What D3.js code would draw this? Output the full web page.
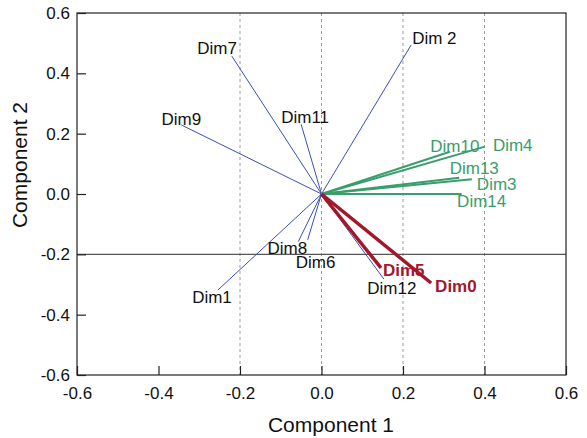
<!DOCTYPE html>
<html>
<head>
<meta charset="utf-8">
<script src="https://cdn.jsdelivr.net/npm/d3@7"></script>
<style>
  html, body { margin: 0; padding: 0; background: #fff; }
  svg { display: block; font-family: "Liberation Sans", Arial, Helvetica, sans-serif; }
</style>
</head>
<body>
<svg id="chart" width="587" height="438"></svg>
<script>
// Loading vectors: dimension names with their component 1 / component 2 coordinates
const dims  = ["Dim7", "Dim9", "Dim11", "Dim 2", "Dim1", "Dim8", "Dim6", "Dim12",
               "Dim10", "Dim4", "Dim13", "Dim3", "Dim14", "Dim5", "Dim0"];
const comp1 = [-0.220, -0.344, -0.050, 0.220, -0.254, -0.057, -0.034, 0.153,
               0.315, 0.401, 0.338, 0.369, 0.344, 0.146, 0.269];
const comp2 = [0.457, 0.229, 0.231, 0.494, -0.318, -0.158, -0.152, -0.282,
               0.140, 0.157, 0.054, 0.049, 0.000, -0.245, -0.295];
// Group of each vector: 0 = other, 1 = secondary cluster, 2 = highlighted
const group = [0, 0, 0, 0, 0, 0, 0, 0, 1, 1, 1, 1, 1, 2, 2];

const xTicks = [-0.6, -0.4, -0.2, 0.0, 0.2, 0.4, 0.6];
const yTicks = [-0.6, -0.4, -0.2, 0.0, 0.2, 0.4, 0.6];
const gridX  = [-0.2, 0.0, 0.2, 0.4];
const refY   = -0.2;

// Styling per group
const lineColor  = ["#3b4fb3", "#3a9d6c", "#a3172b"];
const lineWidth  = [1, 2, 3.5];
const labelColor = ["#111", "#3a9d6c", "#a3172b"];
const labelWeight = ["normal", "normal", "bold"];

// Label placement relative to each vector tip (pixels)
const labelLayout = {
  "Dim7":  {dx: 5,   dy: -2, anchor: "end"},
  "Dim9":  {dx: 0,   dy: 0,  anchor: "middle"},
  "Dim11": {dx: 4,   dy: -1, anchor: "middle"},
  "Dim 2": {dx: 1,   dy: -1, anchor: "start"},
  "Dim1":  {dx: -6,  dy: 13, anchor: "middle"},
  "Dim8":  {dx: -11, dy: 12, anchor: "middle"},
  "Dim6":  {dx: 8,   dy: 28, anchor: "middle"},
  "Dim12": {dx: 8,   dy: 15, anchor: "middle"},
  "Dim10": {dx: 5,   dy: 0,  anchor: "middle"},
  "Dim4":  {dx: 8,   dy: 4,  anchor: "start"},
  "Dim13": {dx: 15,  dy: -4, anchor: "middle"},
  "Dim3":  {dx: 5,   dy: 11, anchor: "start"},
  "Dim14": {dx: 20,  dy: 13, anchor: "middle"},
  "Dim5":  {dx: 2,   dy: 8,  anchor: "start"},
  "Dim0":  {dx: 4,   dy: 9,  anchor: "start"}
};

const svg = d3.select("#chart");
const plotLeft = 77, plotRight = 566, plotTop = 13, plotBottom = 375;

const x = d3.scaleLinear().domain([-0.6, 0.6]).range([plotLeft, plotRight]);
const y = d3.scaleLinear().domain([-0.6, 0.6]).range([plotBottom, plotTop]);

// Dashed vertical guides
svg.append("g").selectAll("line").data(gridX).join("line")
  .attr("x1", d => x(d)).attr("x2", d => x(d))
  .attr("y1", plotTop).attr("y2", plotBottom)
  .attr("stroke", "#9a9a9a").attr("stroke-width", 1)
  .attr("stroke-dasharray", "3,3");

// Solid horizontal reference line
svg.append("line")
  .attr("x1", plotLeft).attr("x2", plotRight)
  .attr("y1", y(refY)).attr("y2", y(refY))
  .attr("stroke", "#555").attr("stroke-width", 1.2);

// Axes with inward ticks
const fmt = d => d3.format(".1f")(d).replace("\u2212", "-");
const xAxis = d3.axisBottom(x).tickValues(xTicks).tickSize(-9).tickPadding(12).tickFormat(fmt);
const yAxis = d3.axisLeft(y).tickValues(yTicks).tickSize(-9).tickPadding(7).tickFormat(fmt);

const gx = svg.append("g").attr("transform", `translate(0,${plotBottom})`).call(xAxis);
const gy = svg.append("g").attr("transform", `translate(${plotLeft},0)`).call(yAxis);
[gx, gy].forEach(g => {
  g.select(".domain").remove();
  g.selectAll(".tick line").attr("stroke", "#222").attr("stroke-width", 1.2);
  g.selectAll(".tick text")
    .attr("fill", "#111")
    .style("font-size", "17px")
    .style("font-family", "'Liberation Sans', Arial, sans-serif");
});

// Plot frame
svg.append("rect")
  .attr("x", plotLeft).attr("y", plotTop)
  .attr("width", plotRight - plotLeft).attr("height", plotBottom - plotTop)
  .attr("fill", "none").attr("stroke", "#222").attr("stroke-width", 1.2);

// Vectors, drawn by group so the highlighted ones sit on top
const vectors = dims.map((name, i) => ({name, c1: comp1[i], c2: comp2[i], g: group[i]}));
const vg = svg.append("g");
[0, 1, 2].forEach(gi => {
  vg.append("g").selectAll("line").data(vectors.filter(v => v.g === gi)).join("line")
    .attr("x1", x(0)).attr("y1", y(0))
    .attr("x2", d => x(d.c1)).attr("y2", d => y(d.c2))
    .attr("stroke", lineColor[gi])
    .attr("stroke-width", lineWidth[gi])
    .attr("stroke-linecap", "butt");
});

// Vector labels
svg.append("g").selectAll("text").data(vectors).join("text")
  .attr("x", d => x(d.c1) + labelLayout[d.name].dx)
  .attr("y", d => y(d.c2) + labelLayout[d.name].dy)
  .attr("text-anchor", d => labelLayout[d.name].anchor)
  .attr("fill", d => labelColor[d.g])
  .attr("font-weight", d => labelWeight[d.g])
  .style("font-size", "17px")
  .text(d => d.name);

// Axis titles
svg.append("text")
  .attr("x", 331).attr("y", 432)
  .attr("text-anchor", "middle")
  .attr("fill", "#111")
  .style("font-size", "21px")
  .text("Component 1");

svg.append("text")
  .attr("transform", "translate(27,165) rotate(-90)")
  .attr("text-anchor", "middle")
  .attr("fill", "#111")
  .style("font-size", "21px")
  .text("Component 2");
</script>
</body>
</html>
